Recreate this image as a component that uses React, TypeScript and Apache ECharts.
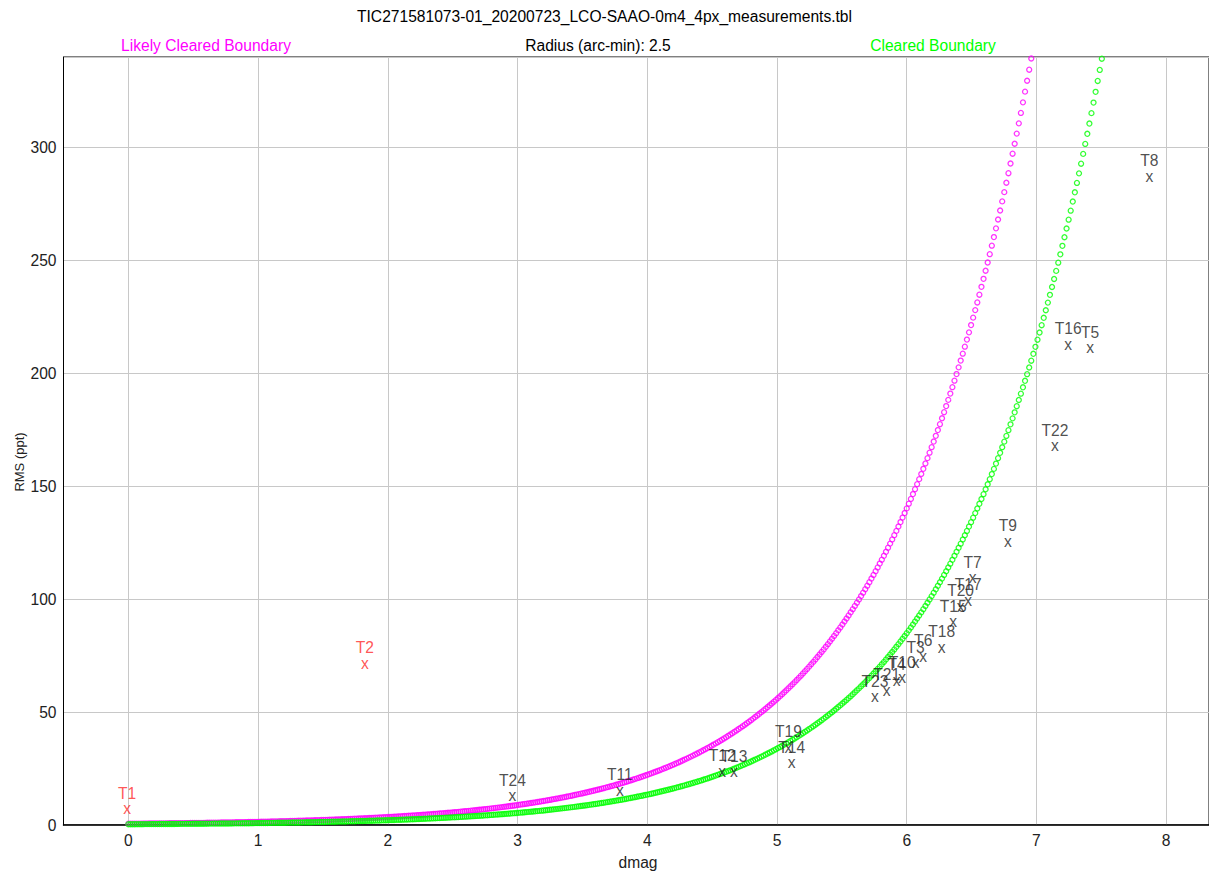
import React, { useEffect, useRef } from "react";
import * as echarts from "echarts";

// ---- texts ----
const TITLE = "TIC271581073-01_20200723_LCO-SAAO-0m4_4px_measurements.tbl";
const LIKELY_LABEL = "Likely Cleared Boundary";
const RADIUS_LABEL = "Radius (arc-min): 2.5";
const CLEARED_LABEL = "Cleared Boundary";
const X_NAME = "dmag";
const Y_NAME = "RMS (ppt)";

// ---- axis ranges ----
const X_MIN = -0.5;
const X_MAX = 8.33;
const Y_MIN = 0;
const Y_MAX = 340;
const Y_STEP = 50;

// ---- boundary curves: RMS = coef * 10^(0.4 * dmag), sampled every 0.016 dmag ----
const BOUNDARY_STEP = 0.016;
const BOUNDARY_COUNT = 500;
const LIKELY_COEF = 0.558;
const CLEARED_COEF = 0.338;

// ---- measured targets ----
const targetNames = [
  "T1", "T2", "T24", "T11", "T12", "T13", "T19", "T14", "T23", "T21", "T4", "T10",
  "T3", "T6", "T18", "T15", "T20", "T17", "T7", "T9", "T22", "T16", "T5", "T8",
];
const targetDmag = [
  -0.01, 1.823, 2.961, 3.789, 4.578, 4.668, 5.088, 5.113, 5.755, 5.845, 5.922, 5.965,
  6.069, 6.127, 6.269, 6.358, 6.415, 6.474, 6.508, 6.78, 7.143, 7.245, 7.413, 7.87,
];
const targetRms = [
  7.3, 71.8, 13.0, 15.5, 24.0, 23.6, 34.6, 27.6, 56.8, 59.8, 64.2, 65.2,
  72.0, 74.8, 78.9, 90.0, 96.9, 99.6, 109.5, 125.7, 167.9, 212.9, 211.3, 287.3,
];
const targetWarn = [
  true, true, false, false, false, false, false, false, false, false, false, false,
  false, false, false, false, false, false, false, false, false, false, false, false,
];

const FONT = "'Liberation Sans', Arial, Helvetica, sans-serif";
const FS = 15.6;
const MAGENTA = "#ff00ff";
const GREEN = "#00ff00";
const RED = "#ff2a2a";
const DARK = "#222222";

function boundary(coef: number): number[][] {
  const pts: number[][] = [];
  for (let i = 0; i <= BOUNDARY_COUNT; i++) {
    const d = i * BOUNDARY_STEP;
    pts.push([d, coef * Math.pow(10, 0.4 * d)]);
  }
  return pts;
}

function targetSeries(warn: boolean, color: string) {
  const data: any[] = [];
  targetNames.forEach((n, i) => {
    if (targetWarn[i] === warn) data.push({ name: n, value: [targetDmag[i], targetRms[i]] });
  });
  return {
    type: "scatter",
    data,
    symbol: "circle",
    symbolSize: 1,
    itemStyle: { color: "rgba(0,0,0,0)" },
    silent: true,
    z: 5,
    label: {
      show: true,
      position: "inside",
      offset: [0, -7.5],
      formatter: (p: any) => `{n|${p.name}}\n{x|x}`,
      rich: {
        n: { fontFamily: FONT, fontSize: FS, lineHeight: 15.5, color, align: "center" },
        x: { fontFamily: FONT, fontSize: FS, lineHeight: 15.5, color, align: "center" },
      },
    },
  };
}

export default function App() {
  const ref = useRef<HTMLDivElement>(null);
  useEffect(() => {
    if (!ref.current) return;
    const chart = echarts.init(ref.current, undefined, { renderer: "svg" });
    const axisLabel = { fontFamily: FONT, fontSize: FS, color: DARK, margin: 7 };
    chart.setOption({
      animation: false,
      backgroundColor: "#ffffff",
      grid: {
        left: 63.5,
        top: 57,
        right: -1,
        bottom: 51,
        show: true,
        borderColor: "#000",
        borderWidth: 1,
        backgroundColor: "#fff",
      },
      xAxis: {
        type: "value",
        min: X_MIN,
        max: X_MAX,
        splitNumber: 9,
        axisLine: { show: true, onZero: false, lineStyle: { color: "#000", width: 1.5 } },
        axisTick: { show: false },
        axisLabel: { ...axisLabel, showMinLabel: false, showMaxLabel: false },
        splitLine: { show: true, lineStyle: { color: "#c8c8c8", width: 1 } },
      },
      yAxis: {
        type: "value",
        min: Y_MIN,
        max: Y_MAX,
        interval: Y_STEP,
        axisLine: { show: true, onZero: false, lineStyle: { color: "#000", width: 1 } },
        axisTick: { show: false },
        axisLabel: { ...axisLabel, showMaxLabel: false },
        splitLine: { show: true, lineStyle: { color: "#c8c8c8", width: 1 } },
      },
      series: [
        {
          name: LIKELY_LABEL,
          type: "scatter",
          data: boundary(LIKELY_COEF),
          symbol: "circle",
          symbolSize: 5,
          itemStyle: { color: "rgba(0,0,0,0)", borderColor: MAGENTA, borderWidth: 1.3 },
          silent: true,
          z: 2,
        },
        {
          name: CLEARED_LABEL,
          type: "scatter",
          data: boundary(CLEARED_COEF),
          symbol: "circle",
          symbolSize: 5,
          itemStyle: { color: "rgba(0,0,0,0)", borderColor: GREEN, borderWidth: 1.3 },
          silent: true,
          z: 3,
        },
        targetSeries(false, DARK),
        targetSeries(true, RED),
      ],
      graphic: [
        {
          type: "text",
          x: 604.5,
          y: 16.5,
          style: { text: TITLE, fontFamily: FONT, fontSize: FS, fill: "#000", align: "center", verticalAlign: "middle" },
        },
        {
          type: "text",
          x: 206,
          y: 45,
          style: { text: LIKELY_LABEL, fontFamily: FONT, fontSize: FS, fill: MAGENTA, align: "center", verticalAlign: "middle" },
        },
        {
          type: "text",
          x: 598,
          y: 45,
          style: { text: RADIUS_LABEL, fontFamily: FONT, fontSize: FS, fill: "#000", align: "center", verticalAlign: "middle" },
        },
        {
          type: "text",
          x: 933,
          y: 45,
          style: { text: CLEARED_LABEL, fontFamily: FONT, fontSize: FS, fill: GREEN, align: "center", verticalAlign: "middle" },
        },
        {
          type: "text",
          x: 638,
          y: 862,
          style: { text: X_NAME, fontFamily: FONT, fontSize: FS, fill: DARK, align: "center", verticalAlign: "middle" },
        },
        {
          type: "text",
          x: 19,
          y: 462,
          rotation: Math.PI / 2,
          style: { text: Y_NAME, fontFamily: FONT, fontSize: 13, fill: DARK, align: "center", verticalAlign: "middle" },
        },
      ],
    });
    return () => chart.dispose();
  }, []);
  return (
    <div
      ref={ref}
      style={{ position: "fixed", left: 0, top: 0, width: 1209, height: 876, background: "#fff" }}
    />
  );
}
